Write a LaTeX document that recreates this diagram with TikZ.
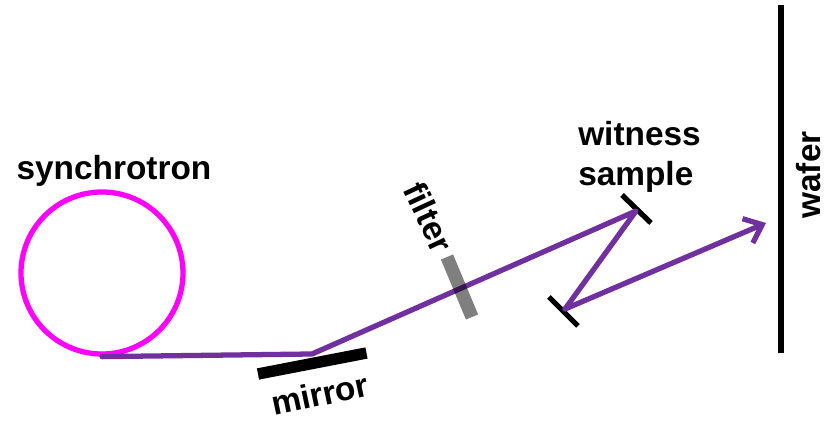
\documentclass[tikz,border=0pt]{standalone}
\usepackage{fontspec}
\setmainfont{Liberation Sans}
\usetikzlibrary{arrows.meta, positioning, calc}
\definecolor{beamcolor}{HTML}{7030A0}
\definecolor{ringcolor}{HTML}{FF00FF}
\tikzset{
    lbl/.style={font=\fontsize{19}{23}\selectfont\bfseries, inner sep=0pt, align=left},
    beam/.style={beamcolor, line width=3pt, line cap=round, line join=round},
    optic/.style={black, line width=3pt}
}

\begin{document}
\begin{tikzpicture}
        \useasboundingbox (0, 0) rectangle (16.74, 8.44);

        % Ring
        \node[circle, draw=ringcolor, line width=3pt, minimum size=3.24cm, inner sep=0pt] (ring) at (2.04, 2.98) {};
        \node[lbl] (synchrotronlabel) at (2.28, 5.02) {synchrotron};

        % Hit points
        \coordinate (mirrorhit) at (6.24, 1.36);
        \coordinate (witnesshit) at (12.72, 4.22);
        \coordinate (lowerhit) at (11.3, 2.26);
        \coordinate (waferhit) at (15.32, 3.98);

        % Optics
        \coordinate (mirrorA) at (5.16, 0.96);
        \coordinate (mirrorB) at (7.33, 1.38);
        \draw[black, line width=6.5pt] (mirrorA) -- (mirrorB);
        \coordinate (waferA) at (15.62, 8.34);
        \coordinate (waferB) at (15.62, 1.38);
        \draw[optic] (waferA) -- (waferB);
        \coordinate (witnessA) at (12.44, 4.54);
        \coordinate (witnessB) at (13.02, 3.98);
        \draw[optic] (witnessA) -- (witnessB);
        \coordinate (lowerA) at (10.98, 2.5);
        \coordinate (lowerB) at (11.56, 1.92);
        \draw[optic] (lowerA) -- (lowerB);

        % Beam
        \draw[beam] (ring.south) -- (mirrorhit) -- (witnesshit) -- (lowerhit);
        \draw[beam, -{Straight Barb[length=9pt, width=15pt]}] (lowerhit) -- (waferhit);

        % Filter goes over the beam
        \coordinate (filterA) at (8.94, 3.3);
        \coordinate (filterB) at (9.44, 2.1);
        \draw[black, opacity=0.5, line width=7.5pt] (filterA) -- (filterB);

        % Labels
        \node[lbl] (mirrorlabel) at (6.4, 0.56) [rotate=12] {mirror};
        \node[lbl, rotate=-65] (filterlabel) at (8.58, 4.1) {filter};
        \node[lbl] (witnesslabel) at (12.79, 5.3) {witness\\sample};
        \node[lbl, rotate=90] (waferlabel) at (16.18, 4.94) {wafer};
    \end{tikzpicture}
\end{document}
